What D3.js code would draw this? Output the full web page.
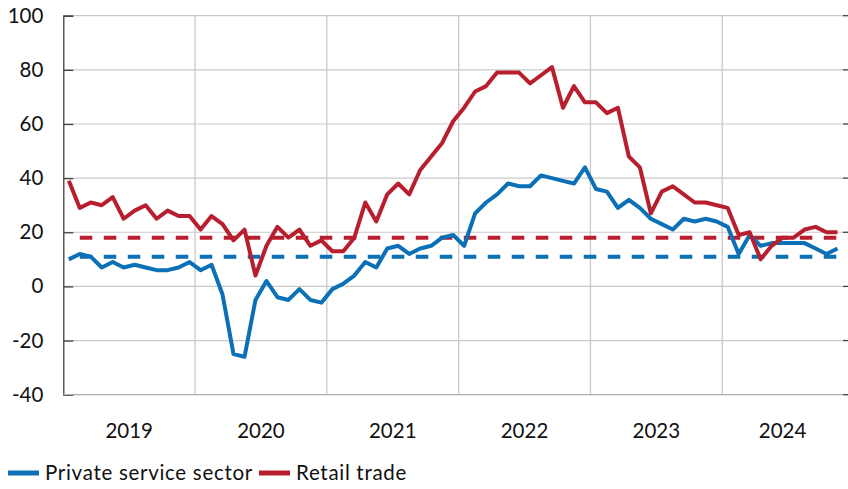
<!DOCTYPE html>
<html>
<head>
<meta charset="utf-8">
<script src="https://cdn.jsdelivr.net/npm/d3@7"></script>
<style>
  body { margin: 0; background: #fff; }
  svg { display: block; font-family: Lato, sans-serif; }
</style>
</head>
<body>
<div id="chart"></div>
<script>
// monthly data, Jan 2019 - Nov 2024
const startMonth = new Date(2019, 0, 1);
const endMonth = new Date(2024, 11, 1);
const years = [2019, 2020, 2021, 2022, 2023, 2024];
const yTicks = [-40, -20, 0, 20, 40, 60, 80, 100];

const service = [10, 12, 11, 7, 9, 7, 8, 7, 6, 6, 7, 9,
  6, 8, -3, -25, -26, -5, 2, -4, -5, -1, -5, -6,
  -1, 1, 4, 9, 7, 14, 15, 12, 14, 15, 18, 19,
  15, 27, 31, 34, 38, 37, 37, 41, 40, 39, 38, 44,
  36, 35, 29, 32, 29, 25, 23, 21, 25, 24, 25, 24,
  22, 12, 19, 15, 16, 16, 16, 16, 14, 12, 14];

const retail = [39, 29, 31, 30, 33, 25, 28, 30, 25, 28, 26, 26,
  21, 26, 23, 17, 21, 4, 15, 22, 18, 21, 15, 17,
  13, 13, 18, 31, 24, 34, 38, 34, 43, 48, 53, 61,
  66, 72, 74, 79, 79, 79, 75, 78, 81, 66, 74, 68,
  68, 64, 66, 48, 44, 27, 35, 37, 34, 31, 31, 30,
  29, 19, 20, 10, 15, 18, 18, 21, 22, 20, 20];

// long-run averages (dashed)
const serviceAvg = 11;
const retailAvg = 18;

const seriesNames = ["Private service sector", "Retail trade"];
const colors = ["#0b70b5", "#b81f2e"];

const months = d3.timeMonth.range(startMonth, endMonth);

const width = 848, height = 489;
const margin = {top: 15.7, right: 5, bottom: 94.3, left: 63.3};
const fontSize = 20.5;

const svg = d3.select("#chart")
    .append("svg")
    .attr("width", width)
    .attr("height", height);

const xScale = d3.scaleBand()
    .domain(months)
    .range([margin.left, width - margin.right])
    .padding(0);

const yScale = d3.scaleLinear()
    .domain([-40, 100])
    .range([height - margin.bottom, margin.top]);

const xMid = (d) => xScale(d) + xScale.bandwidth() / 2;

// horizontal grid
svg.append("g")
    .selectAll("line")
    .data(yTicks.filter(d => d !== -40))
    .enter()
    .append("line")
    .attr("x1", margin.left)
    .attr("x2", width - margin.right)
    .attr("y1", d => yScale(d))
    .attr("y2", d => yScale(d))
    .attr("stroke", "#c9c9c9")
    .attr("stroke-width", 1.2);

// vertical year grid
svg.append("g")
    .selectAll("line")
    .data(years.slice(1))
    .enter()
    .append("line")
    .attr("x1", d => xScale(new Date(d, 0, 1)))
    .attr("x2", d => xScale(new Date(d, 0, 1)))
    .attr("y1", margin.top)
    .attr("y2", yScale(-40))
    .attr("stroke", "#c9c9c9")
    .attr("stroke-width", 1.3);

// y axis
const yAxis = d3.axisLeft(yScale)
    .tickValues(yTicks)
    .tickFormat(d => String(d))
    .tickSize(-10)
    .tickPadding(20);

svg.append("g")
    .attr("transform", `translate(${margin.left},0)`)
    .call(yAxis)
    .call(g => g.select(".domain").attr("stroke", "#404040").attr("stroke-width", 1.3))
    .call(g => g.selectAll(".tick line").attr("stroke", "#404040").attr("stroke-width", 1.3))
    .call(g => g.selectAll(".tick text")
        .attr("font-size", fontSize)
        .attr("font-family", "Lato, sans-serif")
        .attr("fill", "#111"));

// small ticks on right edge
svg.append("g")
    .selectAll("line")
    .data(yTicks)
    .enter()
    .append("line")
    .attr("x1", width - margin.right)
    .attr("x2", width)
    .attr("y1", d => yScale(d))
    .attr("y2", d => yScale(d))
    .attr("stroke", "#404040")
    .attr("stroke-width", 1.3);

// bottom axis line
svg.append("line")
    .attr("x1", margin.left)
    .attr("x2", width - margin.right)
    .attr("y1", yScale(-40))
    .attr("y2", yScale(-40))
    .attr("stroke", "#b0b0b0")
    .attr("stroke-width", 1.3);

// year labels
svg.append("g")
    .selectAll("text")
    .data(years)
    .enter()
    .append("text")
    .attr("x", d => {
        const ms = months.filter(m => m.getFullYear() === d);
        return (xScale(ms[0]) + xScale(ms[ms.length - 1]) + xScale.bandwidth()) / 2;
    })
    .attr("y", 431)
    .attr("dy", "0.35em")
    .attr("text-anchor", "middle")
    .attr("font-size", fontSize)
    .attr("fill", "#111")
    .text(d => d);

// average dashed lines
const avgData = [
    {value: serviceAvg, color: colors[0]},
    {value: retailAvg, color: colors[1]}
];

svg.append("g")
    .selectAll("line")
    .data(avgData)
    .enter()
    .append("line")
    .attr("x1", xMid(months[1]))
    .attr("x2", xMid(months[months.length - 1]))
    .attr("y1", d => yScale(d.value))
    .attr("y2", d => yScale(d.value))
    .attr("stroke", d => d.color)
    .attr("stroke-width", 4)
    .attr("stroke-dasharray", "12.5,11.5");

// series lines
const line = d3.line()
    .x((d, i) => xMid(months[i]))
    .y(d => yScale(d));

[service, retail].forEach((s, i) => {
    svg.append("path")
        .datum(s)
        .attr("fill", "none")
        .attr("stroke", colors[i])
        .attr("stroke-width", 4)
        .attr("stroke-linejoin", "round")
        .attr("d", line);
});

// legend
const legend = svg.append("g")
    .attr("transform", "translate(8,473)");

const legendX = [0, 251];

seriesNames.forEach((name, i) => {
    const g = legend.append("g").attr("transform", `translate(${legendX[i]},0)`);
    g.append("line")
        .attr("x1", 0)
        .attr("x2", 31)
        .attr("stroke", colors[i])
        .attr("stroke-width", 5);
    g.append("text")
        .attr("x", 37)
        .attr("dy", "0.35em")
        .attr("font-size", fontSize)
        .attr("letter-spacing", 0.7)
        .attr("fill", "#111")
        .text(name);
});
</script>
</body>
</html>
